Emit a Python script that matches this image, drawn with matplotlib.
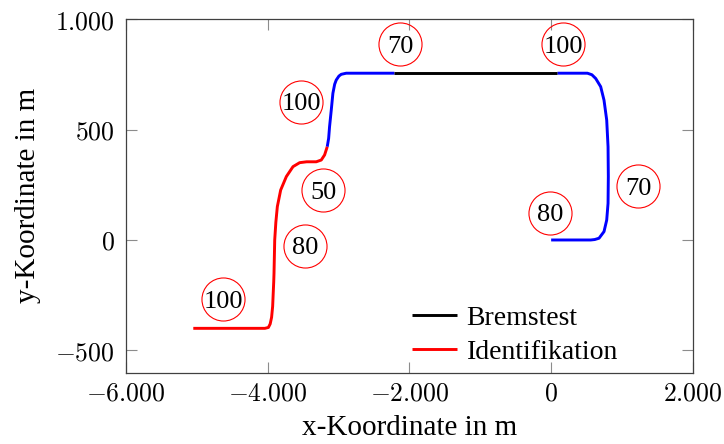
import matplotlib.pyplot as plt
import numpy as np

# Identifikation (red)
ident_x = [-5050, -4300, -4040, -3990, -3965, -3945, -3930, -3922, -3915, -3911, -3901,
           -3885, -3864, -3817, -3737, -3643, -3549, -3450, -3315, -3244, -3197, -3160]
ident_y = [-400, -400, -400, -396, -380, -350, -300, -240, -190, -151, 0,
           80, 151, 226, 287, 332, 350, 354, 354, 362, 385, 422]

# unlabelled blue stretches of the route
rest1_x = [-3160, -3140, -3127, -3103, -3080, -3055, -3033, -2995, -2962, -2892, -2211]
rest1_y = [422, 460, 513, 588, 664, 705, 724, 742, 750, 755, 755]
rest2_x = [89, 512, 575, 629, 699, 746, 784, 803, 807, 803, 784, 746, 676, 615, 559, 0]
rest2_y = [755, 755, 748, 731, 694, 633, 543, 422, 287, 166, 90, 38, 8, 2, 0, 0]

# Bremstest (black)
brems_x = [-2211, 89]
brems_y = [755, 755]

# speed limit signs
limit_vals = [100, 80, 50, 100, 70, 100, 70, 80]
limit_x = [-4629, -3469, -3216, -3525, -2127, 169, 1225, -14]
limit_y = [-268, -27, 226, 626, 887, 887, 244, 124]

xticks = [-6000, -4000, -2000, 0, 2000]
yticks = [-500, 0, 500, 1000]

plt.rcParams["mathtext.fontset"] = "cm"
serif = "Liberation Serif"

fig = plt.figure(figsize=(7.24, 4.44), dpi=100)
ax = fig.add_axes([0.174, 0.161, 0.783, 0.796])

ax.plot(rest1_x, rest1_y, color="#0000ff", lw=2.1, solid_capstyle="butt")
ax.plot(rest2_x, rest2_y, color="#0000ff", lw=2.1, solid_capstyle="butt")
ax.plot(brems_x, brems_y, color="black", lw=2.1, label="Bremstest", solid_capstyle="butt")
ax.plot(ident_x, ident_y, color="#ff0000", lw=2.1, label="Identifikation", solid_capstyle="butt")

ax.plot(limit_x, limit_y, "o", ms=31, mfc="none", mec="#ff0000", mew=0.8)
for v, x, y in zip(limit_vals, limit_x, limit_y):
    ax.text(x, y, str(v), ha="center", va="center_baseline", family=serif, fontsize=19)

ax.set_xlim(-6000, 2000)
ax.set_ylim(-600, 1000)
ax.set_xticks(xticks)
ax.set_yticks(yticks)


def fmt(v):
    s = f"{abs(v):,}".replace(",", ".")
    return f"$-{s}$" if v < 0 else f"${s}$"


ax.set_xticklabels([fmt(v) for v in xticks], fontsize=18.5)
ax.set_yticklabels([fmt(v) for v in yticks], fontsize=18.5)
ax.tick_params(direction="in", length=8, width=0.8, color="0.55",
               top=True, right=True)
ax.tick_params(axis="x", pad=6)
ax.tick_params(axis="y", pad=8)
for sp in ax.spines.values():
    sp.set_color("0.25")
    sp.set_linewidth(0.9)

ax.set_xlabel("x-Koordinate in m", family=serif, fontsize=21, labelpad=6)
ax.set_ylabel("y-Koordinate in m", family=serif, fontsize=21, labelpad=10)

ax.legend(loc="lower right", bbox_to_anchor=(0.912, -0.05), frameon=False,
          prop={"family": serif, "size": 20}, handlelength=1.6,
          handletextpad=0.35, labelspacing=0.33)

fig.savefig("out.png", dpi=100)
